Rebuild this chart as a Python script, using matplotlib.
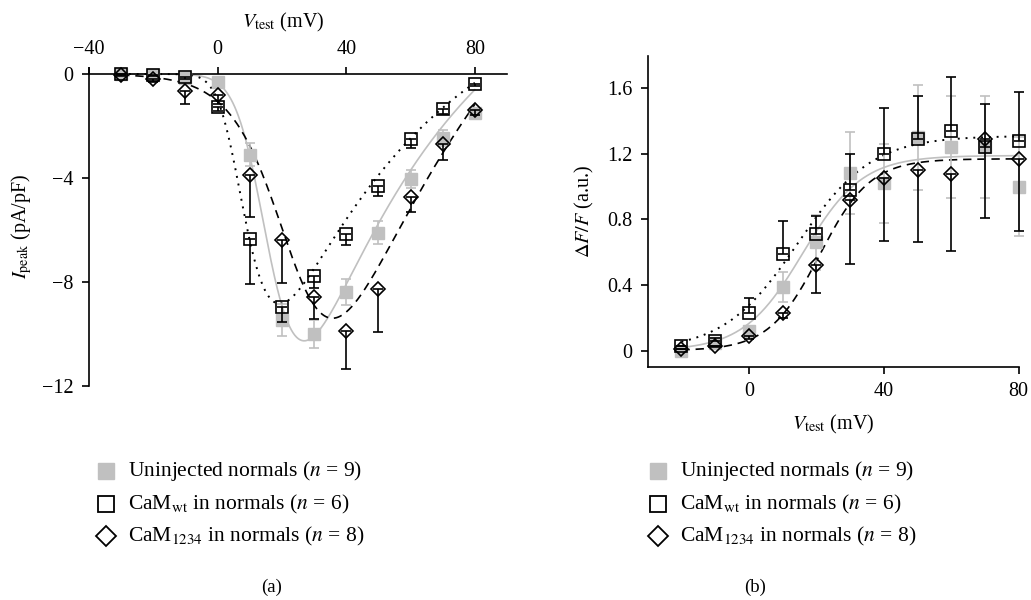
import numpy as np
import matplotlib
matplotlib.use("Agg")
import matplotlib.pyplot as plt

plt.rcParams['font.family'] = ['Liberation Serif', 'DejaVu Serif']
plt.rcParams['mathtext.fontset'] = 'stix'
plt.rcParams['axes.unicode_minus'] = True

# ---------------- data: panel (a) ----------------
v_a = [-30, -20, -10, 0, 10, 20, 30, 40, 50, 60, 70, 80]
ipk_uninj = [0, -0.05, -0.15, -0.3, -3.1, -9.46, -10.0, -8.37, -6.1, -4.04, -2.47, -1.5]
ipk_uninj_err = [0, 0.05, 0.1, 0.1, 0.45, 0.6, 0.55, 0.5, 0.45, 0.35, 0.3, 0.2]
ipk_wt = [0, -0.02, -0.1, -1.27, -6.36, -8.97, -7.77, -6.16, -4.3, -2.5, -1.35, -0.38]
ipk_wt_err = [0, 0.05, 0.1, 0.15, 1.7, 0.55, 0.45, 0.4, 0.4, 0.35, 0.2, 0.1]
ipk_1234 = [-0.04, -0.2, -0.64, -0.8, -3.9, -6.4, -8.56, -9.9, -8.28, -4.74, -2.7, -1.38]
ipk_1234_err = [0.05, 0.1, 0.5, 0.35, 1.6, 1.65, 0.85, 1.45, 1.65, 0.55, 0.6, 0.2]

# fit parameters (g, Vrev, s, Vhalf, k, p) for I-V curves
fit_a_uninj = [0.98, 85, 25, 12.3, 6.2, 2]
fit_a_wt = [0.67, 84, 25, 2.4, 5.7, 3]
fit_a_1234 = [0.94, 87, 30, 25.5, 8, 1]

# ---------------- data: panel (b) ----------------
v_b = [-20, -10, 0, 10, 20, 30, 40, 50, 60, 70, 80]
df_uninj = [0.0, 0.05, 0.12, 0.39, 0.66, 1.085, 1.02, 1.30, 1.24, 1.24, 1.0]
df_uninj_err = [0.02, 0.02, 0.03, 0.09, 0.17, 0.25, 0.24, 0.32, 0.31, 0.31, 0.3]
df_wt = [0.03, 0.06, 0.23, 0.59, 0.71, 0.98, 1.2, 1.29, 1.34, 1.245, 1.28]
df_wt_err = [0.0, 0.02, 0.09, 0.2, 0.11, 0.22, 0.28, 0.26, 0.33, 0.26, 0.30]
df_1234 = [0.01, 0.03, 0.09, 0.23, 0.52, 0.92, 1.05, 1.10, 1.08, 1.29, 1.17]
df_1234_err = [0.0, 0.0, 0.02, 0.03, 0.17, 0.39, 0.38, 0.44, 0.47, 0.48, 0.44]

# Boltzmann parameters (Fmax, Vhalf, k)
fit_b_uninj = [1.19, 16, 8.8]
fit_b_wt = [1.31, 14.5, 11]
fit_b_1234 = [1.17, 21, 7.5]

labels = [r'Uninjected normals ($n$ = 9)',
          r'CaM$_{\mathrm{wt}}$ in normals ($n$ = 6)',
          r'CaM$_{1234}$ in normals ($n$ = 8)']

GRAY = '#c0c0c0'


def iv_curve(v, g, vr, s, vh, k, p):
    v = np.asarray(v, float)
    vv = np.where(np.abs(v) < 1e-6, 1e-6, v)
    drive = vv * (np.exp((vv - vr) / s) - 1) / (np.exp(vv / s) - 1)
    act = (1 / (1 + np.exp((vh - v) / k))) ** p
    return g * drive * act


def boltz(v, fmax, vh, k):
    v = np.asarray(v, float)
    return fmax / (1 + np.exp((vh - v) / k))


W, H = 1031, 600
fig = plt.figure(figsize=(W / 100, H / 100), dpi=100)


def px_axes(x0, x1, y_top, y_bot):
    return fig.add_axes([x0 / W, 1 - y_bot / H, (x1 - x0) / W, (y_bot - y_top) / H])


# ---------------- panel (a) ----------------
axa = px_axes(89, 507, 67.5, 386)
vv = np.linspace(-30, 80, 400)
axa.plot(vv, iv_curve(vv, *fit_a_uninj), color=GRAY, lw=1.2, zorder=1)
axa.plot(vv, iv_curve(vv, *fit_a_wt), color='black', lw=1.4, ls=(0, (1, 3)), zorder=1)
axa.plot(vv, iv_curve(vv, *fit_a_1234), color='black', lw=1.2, ls=(0, (5, 3.5)), zorder=1)

axa.errorbar(v_a, ipk_uninj, yerr=ipk_uninj_err, fmt='s', ms=8.5, mfc=GRAY, mec=GRAY,
             ecolor=GRAY, elinewidth=1.2, capsize=3.5, capthick=1.2, zorder=3, clip_on=False)
axa.errorbar(v_a, ipk_wt, yerr=[ipk_wt_err, np.zeros(len(ipk_wt_err))], fmt='s', ms=8.5,
             mfc='none', mec='black', mew=1.2, ecolor='black', elinewidth=1.2,
             capsize=3.5, capthick=1.2, zorder=4, clip_on=False)
axa.errorbar(v_a, ipk_1234, yerr=[ipk_1234_err, np.zeros(len(ipk_1234_err))], fmt='D', ms=7.5,
             mfc='none', mec='black', mew=1.2, ecolor='black', elinewidth=1.2,
             capsize=3.5, capthick=1.2, zorder=5, clip_on=False)

axa.set_xlim(-40, 90)
axa.set_ylim(-12, 0.25)
axa.spines['right'].set_visible(False)
axa.spines['bottom'].set_visible(False)
axa.spines['top'].set_position(('data', 0))
axa.spines['left'].set_bounds(-12, 0.25)
for sp in ('top', 'left'):
    axa.spines[sp].set_linewidth(1.2)
axa.xaxis.set_ticks_position('top')
axa.xaxis.set_label_position('top')
axa.set_xticks([-40, 0, 40, 80])
axa.set_yticks([0, -4, -8, -12])
axa.tick_params(axis='both', direction='out', length=5, width=1.2, labelsize=14.5, pad=6)
axa.set_xlabel(r'$V_{\mathrm{test}}$ (mV)', fontsize=14.5)
axa.set_ylabel(r'$I_{\mathrm{peak}}$ (pA/pF)', fontsize=14.5, labelpad=6)
axa.xaxis.set_label_coords(0.465, 1 + (67.5 - 27) / 318.5)

# ---------------- panel (b) ----------------
axb = px_axes(647.7, 1018.7, 55.5, 367.1)
vb = np.linspace(-20, 80, 400)
axb.plot(vb, boltz(vb, *fit_b_uninj), color=GRAY, lw=1.2, zorder=1)
axb.plot(vb, boltz(vb, *fit_b_wt), color='black', lw=1.4, ls=(0, (1, 3)), zorder=1)
axb.plot(vb, boltz(vb, *fit_b_1234), color='black', lw=1.2, ls=(0, (5, 3.5)), zorder=1)

axb.errorbar(v_b, df_uninj, yerr=df_uninj_err, fmt='s', ms=8.5, mfc=GRAY, mec=GRAY,
             ecolor=GRAY, elinewidth=1.2, capsize=3.5, capthick=1.2, zorder=3, clip_on=False)
axb.errorbar(v_b, df_wt, yerr=[np.zeros(len(df_wt_err)), df_wt_err], fmt='s', ms=8.5,
             mfc='none', mec='black', mew=1.2, ecolor='black', elinewidth=1.2,
             capsize=3.5, capthick=1.2, zorder=4, clip_on=False)
axb.errorbar(v_b, df_1234, yerr=[df_1234_err, np.zeros(len(df_1234_err))], fmt='D', ms=7.5,
             mfc='none', mec='black', mew=1.2, ecolor='black', elinewidth=1.2,
             capsize=3.5, capthick=1.2, zorder=5, clip_on=False)

axb.set_xlim(-30, 80)
axb.set_ylim(-0.1, 1.8)
axb.spines['right'].set_visible(False)
axb.spines['top'].set_visible(False)
for sp in ('bottom', 'left'):
    axb.spines[sp].set_linewidth(1.2)
axb.set_xticks([0, 40, 80])
axb.set_yticks([0, 0.4, 0.8, 1.2, 1.6])
axb.set_yticklabels(['0', '0.4', '0.8', '1.2', '1.6'])
axb.tick_params(axis='both', direction='out', length=5, width=1.2, labelsize=14.5, pad=6)
axb.set_xlabel(r'$V_{\mathrm{test}}$ (mV)', fontsize=14.5, labelpad=8)
axb.set_ylabel(r'$\Delta F/F$ (a.u.)', fontsize=14.5, labelpad=8)

# ---------------- legends & panel letters ----------------
ov = fig.add_axes([0, 0, 1, 1], zorder=-1)
ov.set_xlim(0, W)
ov.set_ylim(H, 0)
ov.axis('off')
rows = [470.7, 504, 536]
styles = [dict(marker='s', ms=12, mfc=GRAY, mec=GRAY),
          dict(marker='s', ms=11.5, mfc='none', mec='black', mew=1.3),
          dict(marker='D', ms=10, mfc='none', mec='black', mew=1.3)]
for mx, tx in [(106, 128), (658, 680)]:
    for y, st, lab in zip(rows, styles, labels):
        ov.plot([mx], [y], ls='none', **st)
        ov.text(tx, y, lab, fontsize=15.5, va='center', ha='left')
ov.text(272, 587, '(a)', fontsize=13.5, ha='center', va='center')
ov.text(755, 587, '(b)', fontsize=13.5, ha='center', va='center')

fig.savefig('out.png', dpi=100)
